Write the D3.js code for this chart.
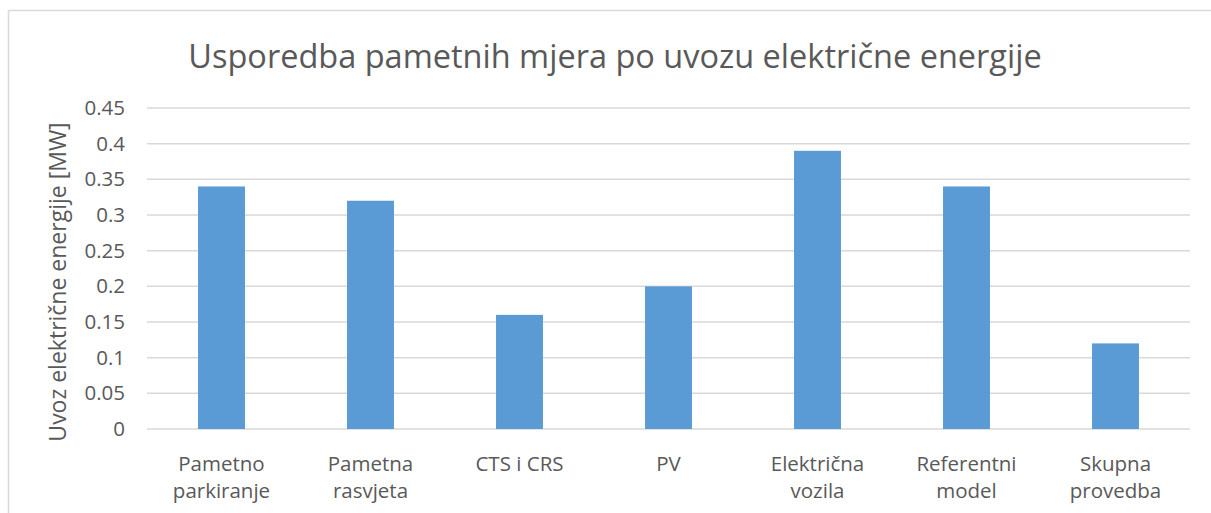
<!DOCTYPE html>
<html>
<head>
<meta charset="utf-8">
<script src="https://cdn.jsdelivr.net/npm/d3@7"></script>
<style>
  body { margin: 0; background: #fff; }
  svg { font-family: "Open Sans", "Noto Sans", sans-serif; }
</style>
</head>
<body>
<svg id="chart" width="1211" height="513"></svg>
<script>
// podaci
const categories = [
  ["Pametno", "parkiranje"],
  ["Pametna", "rasvjeta"],
  ["CTS i CRS"],
  ["PV"],
  ["Električna", "vozila"],
  ["Referentni", "model"],
  ["Skupna", "provedba"]
];
const values = [0.34, 0.32, 0.16, 0.2, 0.39, 0.34, 0.12];
const yTicks = [0, 0.05, 0.1, 0.15, 0.2, 0.25, 0.3, 0.35, 0.4, 0.45];

const svg = d3.select("#chart");
const plotLeft = 147, plotRight = 1190, plotTop = 108, plotBottom = 429;
const textColor = "#595959";

// okvir
svg.append("rect")
  .attr("x", 8.5).attr("y", 10.5)
  .attr("width", 1240).attr("height", 600)
  .attr("fill", "none").attr("stroke", "#d9d9d9").attr("stroke-width", 1.5);

const labels = categories.map(d => d.join(" "));
const x = d3.scaleBand().domain(labels).range([plotLeft, plotRight]).paddingInner(0.685).paddingOuter(0.3425);
const y = d3.scaleLinear().domain([0, 0.45]).range([plotBottom, plotTop]);

// mreža
svg.append("g")
  .selectAll("line")
  .data(yTicks)
  .join("line")
    .attr("x1", plotLeft).attr("x2", plotRight)
    .attr("y1", d => y(d)).attr("y2", d => y(d))
    .attr("stroke", "#d9d9d9").attr("stroke-width", 1.5);

// stupci
svg.append("g")
  .selectAll("rect")
  .data(values)
  .join("rect")
    .attr("x", (d, i) => x(labels[i]))
    .attr("y", d => y(d))
    .attr("width", x.bandwidth())
    .attr("height", d => plotBottom - y(d))
    .attr("fill", "#5b9bd5");

// os y
const yAxis = svg.append("g")
  .attr("transform", `translate(${plotLeft - 22},0)`)
  .call(d3.axisLeft(y).tickValues(yTicks).tickSize(0).tickPadding(0).tickFormat(d => String(+d.toFixed(2))));
yAxis.select(".domain").remove();
yAxis.selectAll("text")
  .attr("fill", textColor).attr("font-size", "20.5px")
  .attr("font-family", "Open Sans, Noto Sans, sans-serif");

// os x
const xLabels = svg.append("g")
  .selectAll("text")
  .data(categories)
  .join("text")
    .attr("x", (d, i) => x(labels[i]) + x.bandwidth() / 2)
    .attr("y", 471)
    .attr("text-anchor", "middle")
    .attr("fill", textColor)
    .attr("font-size", "20.5px");
xLabels.selectAll("tspan")
  .data(d => d)
  .join("tspan")
    .attr("x", function() { return this.parentNode.getAttribute("x"); })
    .attr("dy", (d, i) => i === 0 ? 0 : 27)
    .text(d => d);

// naslov osi
svg.append("text")
  .attr("transform", "translate(66,282) rotate(-90)")
  .attr("text-anchor", "middle")
  .attr("fill", textColor)
  .attr("font-size", "23px")
  .text("Uvoz električne energije [MW]");

// naslov
svg.append("text")
  .attr("x", 615).attr("y", 68)
  .attr("text-anchor", "middle")
  .attr("fill", textColor)
  .attr("font-size", "32.5px")
  .text("Usporedba pametnih mjera po uvozu električne energije");
</script>
</body>
</html>
